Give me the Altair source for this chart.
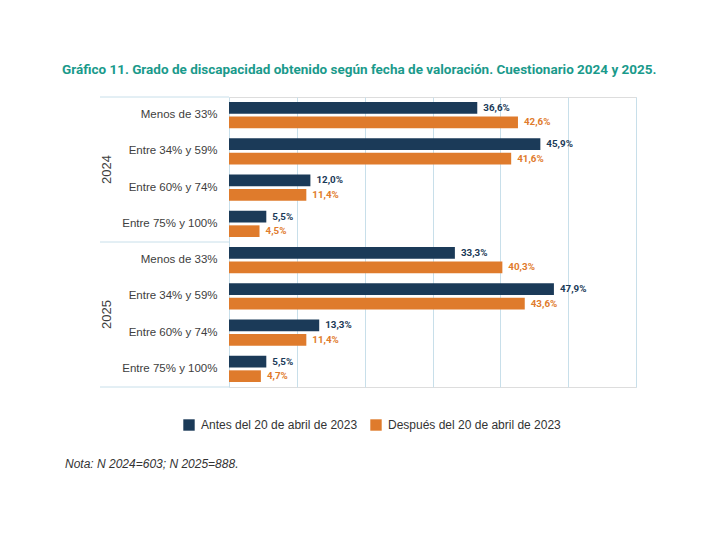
import altair as alt
import pandas as pd

years = ["2024", "2025"]
categories = ["Menos de 33%", "Entre 34% y 59%", "Entre 60% y 74%", "Entre 75% y 100%"]
series = ["Antes del 20 de abril de 2023", "Después del 20 de abril de 2023"]
antes_2024 = [36.6, 45.9, 12.0, 5.5]
despues_2024 = [42.6, 41.6, 11.4, 4.5]
antes_2025 = [33.3, 47.9, 13.3, 5.5]
despues_2025 = [40.3, 43.6, 11.4, 4.7]
title_text = "Gráfico 11. Grado de discapacidad obtenido según fecha de valoración. Cuestionario 2024 y 2025."
note_text = "Nota: N 2024=603; N 2025=888."

NAVY = "#1b3a58"
ORANGE = "#df7b2c"
GRID = "#c8dfea"
TEXT = "#404040"
COND = "Roboto"

vals = {("2024", 0): antes_2024, ("2024", 1): despues_2024,
        ("2025", 0): antes_2025, ("2025", 1): despues_2025}
rows = []
for y in years:
    for ci, c in enumerate(categories):
        for si, s in enumerate(series):
            v = vals[(y, si)][ci]
            rows.append({"key": f"{y}|{c}", "year": y, "cat": c, "serie": s,
                         "value": v, "label": f"{v:.1f}".replace(".", ",") + "%"})
df = pd.DataFrame(rows)
keys = [f"{y}|{c}" for y in years for c in categories]

yscale = alt.Scale(domain=keys, paddingInner=0, paddingOuter=0)
ysort = keys
color = alt.Color("serie:N", scale=alt.Scale(domain=series, range=[NAVY, ORANGE]),
                  legend=alt.Legend(title=None, orient="none", direction="horizontal",
                                    legendX=-46, legendY=322, symbolType="square",
                                    symbolSize=130, symbolStrokeWidth=0,
                                    labelFontSize=12, labelFont="Liberation Sans",
                                    labelColor="#333333", labelOffset=6, labelLimit=400,
                                    columnPadding=12))
yoff = alt.YOffset("serie:N", sort=series,
                   scale=alt.Scale(paddingInner=0.2, paddingOuter=0.34))

base = alt.Chart(df)
bars = base.mark_bar().encode(
    x=alt.X("value:Q", scale=alt.Scale(domain=[0, 60], nice=False),
            axis=alt.Axis(values=[0, 10, 20, 30, 40, 50, 60], labels=False, ticks=False,
                          domain=False, grid=True, gridColor=GRID, gridWidth=1, title=None)),
    y=alt.Y("key:N", sort=ysort, scale=yscale,
            axis=alt.Axis(title=None, ticks=False, domain=False, labelPadding=12,
                          labelExpr="split(datum.label, '|')[1]", labelFontSize=11.5,
                          labelFont="Liberation Sans", labelColor=TEXT, grid=False)),
    yOffset=yoff,
    color=color,
)
labels = base.mark_text(align="left", baseline="middle", dx=6, fontSize=9.8,
                        font=COND, fontWeight="bold").encode(
    x="value:Q",
    y=alt.Y("key:N", sort=ysort, scale=yscale),
    yOffset=yoff,
    text="label:N",
    color=alt.Color("serie:N", scale=alt.Scale(domain=series, range=[NAVY, ORANGE]), legend=None),
)

year_df = pd.DataFrame({"year": years, "key": [f"{y}|{categories[1]}" for y in years]})
year_text = alt.Chart(year_df).mark_text(angle=270, fontSize=13, font="Liberation Sans",
                                         color=TEXT, baseline="middle", align="center").encode(
    x=alt.value(-122),
    y=alt.Y("key:N", sort=ysort, scale=yscale, bandPosition=1),
    text="year:N",
)

sep_top = pd.DataFrame({"key": [f"{y}|{categories[0]}" for y in years]})
sep_bot = pd.DataFrame({"key": [f"{years[-1]}|{categories[-1]}"]})
rule_top = alt.Chart(sep_top).mark_rule(color=GRID, strokeWidth=1).encode(
    x=alt.value(-129), x2=alt.value(0),
    y=alt.Y("key:N", sort=ysort, scale=yscale, bandPosition=0),
)
rule_bot = alt.Chart(sep_bot).mark_rule(color=GRID, strokeWidth=1).encode(
    x=alt.value(-129), x2=alt.value(0),
    y=alt.Y("key:N", sort=ysort, scale=yscale, bandPosition=1),
)

note = alt.Chart(pd.DataFrame({"t": [note_text]})).mark_text(
    align="left", baseline="alphabetic", fontSize=12, fontStyle="italic",
    font="Liberation Sans", color="#333333").encode(
    x=alt.value(-164), y=alt.value(371), text="t:N")

chart = alt.layer(rule_top, rule_bot, bars, labels, year_text, note).properties(
    width=407, height=290,
    title=alt.TitleParams(text=title_text, anchor="start", frame="group", dx=-167,
                          offset=20, fontSize=13.5, font=COND,
                          fontWeight="bold", color="#1a9a8b"),
    autosize=alt.AutoSizeParams(type="none"),
    padding={"left": 221, "top": 89, "right": 76, "bottom": 146},
).configure_view(stroke="transparent", strokeWidth=0).configure(background="white")

chart.save("out.html", embed_options={"renderer": "svg", "actions": False})
